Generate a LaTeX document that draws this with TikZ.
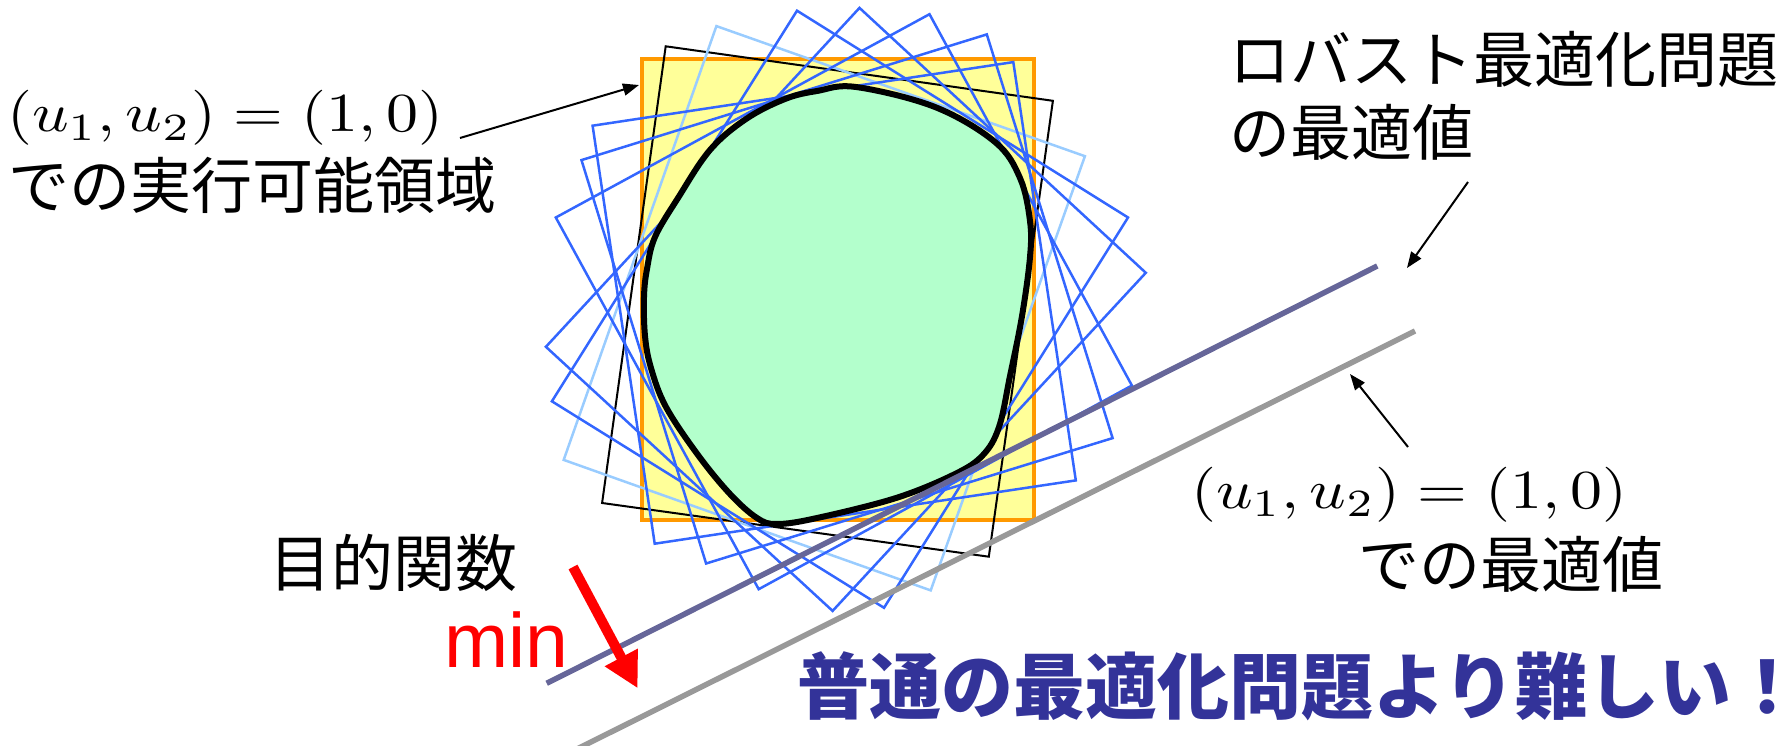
\documentclass[tikz,border=0pt]{standalone}
\usepackage{fontspec}
\usepackage{graphicx}
\usetikzlibrary{arrows.meta}
\newfontfamily\jp{Noto Sans CJK JP}
\newfontfamily\latinsans{Liberation Sans}
\definecolor{sqblue}{RGB}{51,102,255}
\definecolor{sqlight}{RGB}{153,204,255}
\definecolor{rectyellow}{RGB}{255,255,153}
\definecolor{rectorange}{RGB}{255,153,0}
\definecolor{blobgreen}{RGB}{179,255,204}
\definecolor{robustline}{RGB}{102,102,153}
\definecolor{plainline}{RGB}{153,153,153}
\definecolor{headblue}{RGB}{51,51,153}
\begin{document}
\begin{tikzpicture}[x=1pt,y=-1pt,
  jptext/.style={font=\jp\fontsize{61}{72}\selectfont, inner sep=0pt, anchor=base west},
  mathtext/.style={font=\normalsize, inner sep=0pt, anchor=base west},
  pointer/.style={draw=black, line width=2pt, -{Triangle[length=16pt,width=12pt]}},
  bluebox/.style={draw=sqblue, line width=2.5pt},
  lightbox/.style={draw=sqlight, line width=2.5pt},
  blackbox/.style={draw=black, line width=2pt},
  levelline/.style={line width=5.5pt}]
\useasboundingbox (0,0) rectangle (1781,746);

% nominal feasible region (yellow)
\draw[fill=rectyellow, draw=rectorange, line width=4pt] (642,59) rectangle (1033.5,520);

% rotated feasible regions
\draw[blackbox] (665.7,46.3) -- (1052.9,100.8) -- (988.8,556.7) -- (602.1,503) -- cycle;
\draw[lightbox] (716.4,26.1) -- (1084.9,156.2) -- (930.7,590.4) -- (563.7,459.9) -- cycle;
\draw[bluebox] (592.6,125.7) -- (1013.3,62.1) -- (1075.8,480.4) -- (654.7,543.7) -- cycle;
\draw[bluebox] (581.5,160.1) -- (986.8,34.4) -- (1112.6,438.1) -- (706.1,563.5) -- cycle;
\draw[bluebox] (555.8,217.5) -- (929.5,14.2) -- (1131.9,385.5) -- (758.7,589.2) -- cycle;
\draw[bluebox] (545.9,346.8) -- (859.5,7.9) -- (1145.8,272.8) -- (832.6,610.9) -- cycle;
\draw[bluebox] (551.9,401.3) -- (797,10.7) -- (1128,217.5) -- (884,607.8) -- cycle;

% robust feasible region (green blob)
\draw[fill=blobgreen, draw=black, line width=6pt, line join=round]
  plot[smooth cycle, tension=0.6] coordinates {
  (856,87) (935,107) (995,142) (1020,178) (1030,221) (1030,257) (1022,316)
  (1010,376) (999,427) (983,455) (955,474) (896,498) (817,518) (777,524)
  (757,518) (730,494) (698,455) (666,407) (651,368) (645,336) (644,297)
  (647,269) (655,237) (678,198) (710,150) (746,119) (785,99) (817,91)};

% objective level lines
\coordinate (rA) at (546.7,683.3);
\coordinate (rB) at (1377.3,266);
\coordinate (pA) at (575,750);
\coordinate (pB) at (1415,331);
\draw[levelline, draw=robustline] (rA) -- (rB);
\draw[levelline, draw=plainline] (pA) -- (pB);

% labels
\node[mathtext] (tlmath) at (7,132) {\scalebox{6.4}[5.5]{$(u_1,u_2)=(1,0)$}};
\node[jptext] (tljp) at (8,209) {での実行可能領域};
\node[jptext] (tr1) at (1229,83) {ロバスト最適化問題};
\node[jptext] (tr2) at (1229,156) {の最適値};
\node[mathtext] (brmath) at (1191,508) {\scalebox{6.4}[5.5]{$(u_1,u_2)=(1,0)$}};
\node[jptext] (brjp) at (1358,587) {での最適値};
\node[jptext, font=\jp\fontsize{62}{72}\selectfont] (obj) at (269,586) {目的関数};
\node[inner sep=0pt, anchor=base west, text=red, font=\latinsans\fontsize{77}{90}\selectfont] (minlbl) at (444,667) {min};
\node[inner sep=0pt, anchor=base west, text=headblue, font=\jp\bfseries\fontsize{72}{86}\selectfont] (msg) at (797,713) {普通の最適化問題より難しい\makebox[40pt][l]{！}};

% pointers
\coordinate (t1) at (639,85);
\coordinate (s1) at (460,138);
\draw[pointer] (s1) -- (t1);
\coordinate (s2) at (1468,182);
\coordinate (t2) at (1407,268);
\draw[pointer] (s2) -- (t2);
\coordinate (s3) at (1408,447);
\coordinate (t3) at (1350,374);
\draw[pointer] (s3) -- (t3);

% min direction arrow
\coordinate (mS) at (573,567);
\coordinate (mT) at (637.7,688.3);
\draw[red, line width=10pt, -{Triangle[length=35pt,width=35pt]}] (mS) -- (mT);
\end{tikzpicture}
\end{document}
